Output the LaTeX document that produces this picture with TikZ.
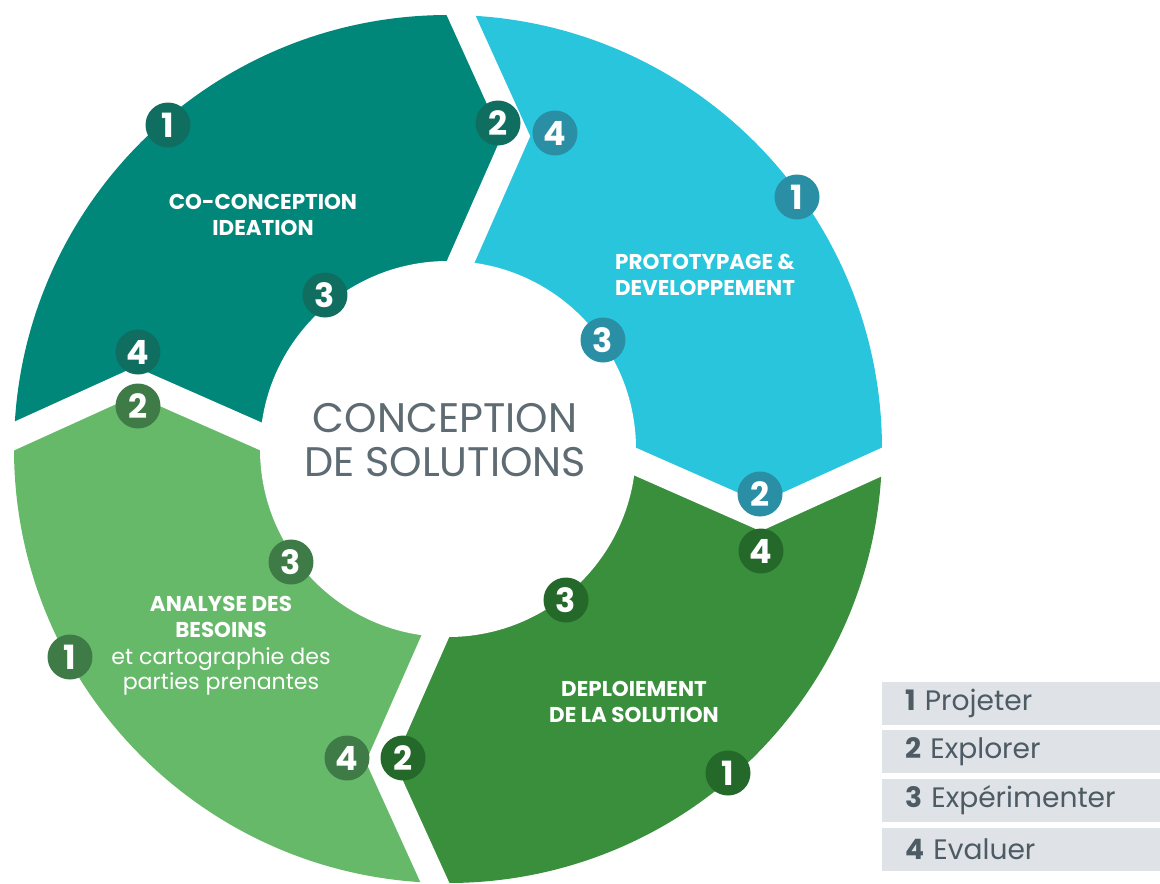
\documentclass[tikz,border=0pt]{standalone}
\usepackage{fontspec}
\setmainfont{Poppins}
\usepackage{tikz}
\usetikzlibrary{positioning}

\definecolor{segteal}{HTML}{01877A}
\definecolor{segblue}{HTML}{29C5DD}
\definecolor{seggreen}{HTML}{3A8F3D}
\definecolor{seglgreen}{HTML}{67B96A}
\definecolor{tealbadge}{HTML}{0F6E60}
\definecolor{bluebadge}{HTML}{2A8FA5}
\definecolor{greenbadge}{HTML}{24682A}
\definecolor{lgbadge}{HTML}{3F7B46}
\definecolor{legfill}{HTML}{DFE2E6}
\definecolor{legtext}{HTML}{4D5B64}
\definecolor{ctrtext}{HTML}{5E6B73}

\begin{document}
\begin{tikzpicture}[x=0.02cm, y=-0.02cm,
  badge/.style={circle, fill=#1, text=white, minimum size=0.9cm, inner sep=0pt, font=\bfseries\fontsize{19}{19}\selectfont},
  segtitle/.style={text=white, align=center, inner sep=0pt, font=\bfseries\fontsize{12.2}{15}\selectfont},
  legbar/.style={fill=legfill, text=legtext, minimum height=0.86cm, text width=4.64cm, inner xsep=0.46cm, align=left, font=\fontsize{16}{16}\selectfont},
  gap/.style={white, line width=0.52cm}]
\useasboundingbox (0,0) rectangle (1160,883);

% ring segments
\begin{scope}[shift={(448,449)}]
\clip (0,0) circle (434);
\fill[segteal] (0,0) -- (181.7:170) -- (192.26:320) -- (179.05:480) -- (225:700) -- (269.05:480) -- (282.26:320) -- (271.7:170) -- cycle;
\fill[segblue] (0,0) -- (271.7:170) -- (282.26:320) -- (269.05:480) -- (315:700) -- (359.05:480) -- (12.26:320) -- (1.7:170) -- cycle;
\fill[seggreen] (0,0) -- (1.7:170) -- (12.26:320) -- (-0.95:480) -- (45:700) -- (89.05:480) -- (102.26:320) -- (91.7:170) -- cycle;
\fill[seglgreen] (0,0) -- (91.7:170) -- (102.26:320) -- (89.05:480) -- (135:700) -- (179.05:480) -- (192.26:320) -- (181.7:170) -- cycle;
\end{scope}
\begin{scope}[shift={(448,449)}]
\fill[white] (0,0) circle (188);
\draw[gap] (179.05:480) -- (192.26:320) -- (181.7:170);
\draw[gap] (269.05:480) -- (282.26:320) -- (271.7:170);
\draw[gap] (-0.95:480) -- (12.26:320) -- (1.7:170);
\draw[gap] (89.05:480) -- (102.26:320) -- (91.7:170);
\end{scope}

% centre
\node[text=ctrtext, align=center, font=\fontsize{23.5}{25}\selectfont] (ctr) at (445,440) {CONCEPTION\\DE SOLUTIONS};

% titles
\node[segtitle] (ideation) at (263,215) {CO-CONCEPTION\\IDEATION};
\node[segtitle] (proto) at (705,275) {PROTOTYPAGE \&\\DEVELOPPEMENT};
\node[segtitle] (deploi) at (634,702) {DEPLOIEMENT\\DE LA SOLUTION};
\node[segtitle] (analyse) at (221,617) {ANALYSE DES\\BESOINS};
\node[text=white, align=center, inner sep=0pt, font=\fontsize{12.6}{12}\selectfont] (carto) [below=0.18cm of analyse] {et cartographie des\\parties prenantes};

% badges
\node[badge=tealbadge] (teal1) at (168,125) {1};
\node[badge=tealbadge] (teal2) at (498,123) {2};
\node[badge=tealbadge] (teal3) at (325,295) {3};
\node[badge=tealbadge] (teal4) at (138,352) {4};
\node[badge=bluebadge] (blue4) at (555,133) {4};
\node[badge=bluebadge] (blue1) at (797,197) {1};
\node[badge=bluebadge] (blue3) at (603,340) {3};
\node[badge=bluebadge] (blue2) at (760,494) {2};
\node[badge=greenbadge] (green4) at (761,551) {4};
\node[badge=greenbadge] (green3) at (566,600) {3};
\node[badge=greenbadge] (green2) at (403,758) {2};
\node[badge=greenbadge] (green1) at (728,773) {1};
\node[badge=lgbadge] (lg2) at (138,406) {2};
\node[badge=lgbadge] (lg3) at (291,562) {3};
\node[badge=lgbadge] (lg1) at (70,657) {1};
\node[badge=lgbadge] (lg4) at (347,758) {4};

% legend
\node[legbar] (leg1) at (1021,703) {\textbf{1} Projeter};
\node[legbar] (leg2) [below=0.1cm of leg1] {\textbf{2} Explorer};
\node[legbar] (leg3) [below=0.1cm of leg2] {\textbf{3} Expérimenter};
\node[legbar] (leg4) [below=0.1cm of leg3] {\textbf{4} Evaluer};
\end{tikzpicture}
\end{document}
